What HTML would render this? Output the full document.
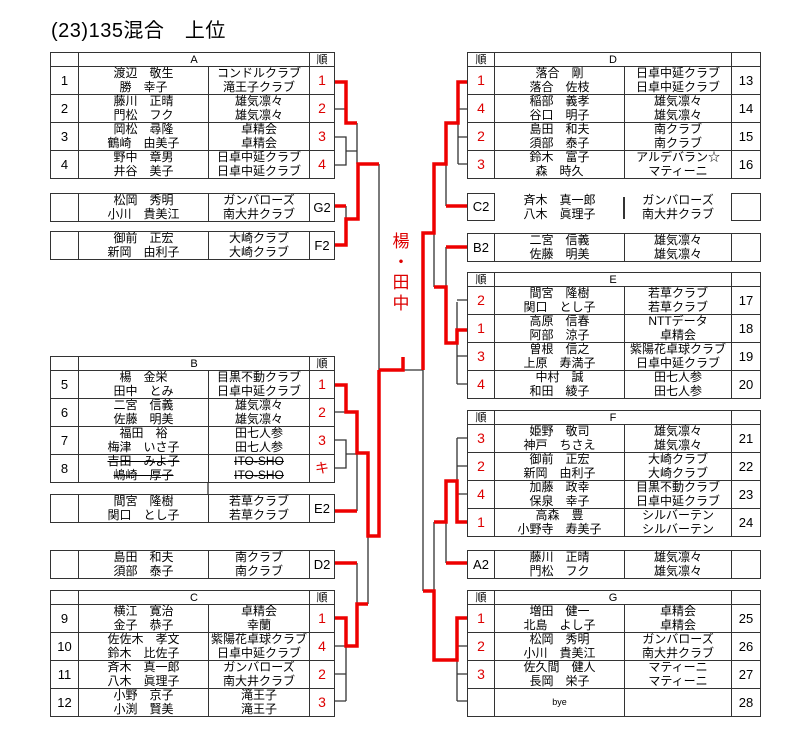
<!DOCTYPE html>
<html><head><meta charset="utf-8">
<style>
*{margin:0;padding:0;box-sizing:border-box}
body{width:794px;height:747px;background:#fff;position:relative;overflow:hidden;font-family:"Liberation Sans","Noto Sans CJK JP",sans-serif;color:#000}
.title{position:absolute;left:51px;top:14px;font-size:20px;letter-spacing:0.5px}
table{position:absolute;border-collapse:collapse;table-layout:fixed}
td{border:1.5px solid #333;text-align:center;vertical-align:middle;font-size:12px;line-height:13.5px;padding:0;white-space:nowrap;overflow:hidden}
tr.h td{height:14px;font-size:11px;line-height:12px}
tr.r td{height:28px}
td.num{font-size:13px}
td.rk{color:#d00;font-size:14px}
td.s{font-size:13px}
.st{text-decoration:line-through}
.L{left:50px;width:284px}
.R{left:467px;width:293px}
svg{position:absolute;left:0;top:0}
.lbl{position:absolute;left:391px;top:232px;color:#d00;font-size:17px;line-height:20.7px;width:20px;text-align:center}
</style></head><body>
<div class="title">(23)135混合　上位</div>

<!-- LEFT -->
<table class="L" style="top:52px"><colgroup><col style="width:28px"><col style="width:130px"><col style="width:101px"><col style="width:25px"></colgroup>
<tr class="h"><td></td><td colspan="2">A</td><td>順</td></tr>
<tr class="r"><td class="num">1</td><td>渡辺　敬生<br>勝　幸子</td><td>コンドルクラブ<br>滝王子クラブ</td><td class="rk">1</td></tr>
<tr class="r"><td class="num">2</td><td>藤川　正晴<br>門松　フク</td><td>雄気凛々<br>雄気凛々</td><td class="rk">2</td></tr>
<tr class="r"><td class="num">3</td><td>岡松　尋隆<br>鶴崎　由美子</td><td>卓精会<br>卓精会</td><td class="rk">3</td></tr>
<tr class="r"><td class="num">4</td><td>野中　章男<br>井谷　美子</td><td>日卓中延クラブ<br>日卓中延クラブ</td><td class="rk">4</td></tr>
</table>
<table class="L" style="top:193px"><colgroup><col style="width:28px"><col style="width:130px"><col style="width:101px"><col style="width:25px"></colgroup>
<tr class="r"><td></td><td>松岡　秀明<br>小川　貴美江</td><td>ガンバローズ<br>南大井クラブ</td><td class="s">G2</td></tr></table>
<table class="L" style="top:231px"><colgroup><col style="width:28px"><col style="width:130px"><col style="width:101px"><col style="width:25px"></colgroup>
<tr class="r"><td></td><td>御前　正宏<br>新岡　由利子</td><td>大崎クラブ<br>大崎クラブ</td><td class="s">F2</td></tr></table>

<table class="L" style="top:356px"><colgroup><col style="width:28px"><col style="width:130px"><col style="width:101px"><col style="width:25px"></colgroup>
<tr class="h"><td></td><td colspan="2">B</td><td>順</td></tr>
<tr class="r"><td class="num">5</td><td>楊　金栄<br>田中　とみ</td><td>目黒不動クラブ<br>日卓中延クラブ</td><td class="rk">1</td></tr>
<tr class="r"><td class="num">6</td><td>二宮　信義<br>佐藤　明美</td><td>雄気凛々<br>雄気凛々</td><td class="rk">2</td></tr>
<tr class="r"><td class="num">7</td><td>福田　裕<br>梅津　いさ子</td><td>田七人参<br>田七人参</td><td class="rk">3</td></tr>
<tr class="r"><td class="num">8</td><td class="st">吉田　みよ子<br>嶋崎　厚子</td><td class="st">ITO-SHO<br>ITO-SHO</td><td class="rk">キ</td></tr>
</table>
<table class="L" style="top:494px"><colgroup><col style="width:28px"><col style="width:130px"><col style="width:101px"><col style="width:25px"></colgroup>
<tr class="r"><td></td><td>間宮　隆樹<br>関口　とし子</td><td>若草クラブ<br>若草クラブ</td><td class="s">E2</td></tr></table>
<table class="L" style="top:550px"><colgroup><col style="width:28px"><col style="width:130px"><col style="width:101px"><col style="width:25px"></colgroup>
<tr class="r"><td></td><td>島田　和夫<br>須部　泰子</td><td>南クラブ<br>南クラブ</td><td class="s">D2</td></tr></table>
<table class="L" style="top:590px"><colgroup><col style="width:28px"><col style="width:130px"><col style="width:101px"><col style="width:25px"></colgroup>
<tr class="h"><td></td><td colspan="2">C</td><td>順</td></tr>
<tr class="r"><td class="num">9</td><td>横江　寛治<br>金子　恭子</td><td>卓精会<br>幸蘭</td><td class="rk">1</td></tr>
<tr class="r"><td class="num">10</td><td>佐佐木　孝文<br>鈴木　比佐子</td><td>紫陽花卓球クラブ<br>日卓中延クラブ</td><td class="rk">4</td></tr>
<tr class="r"><td class="num">11</td><td>斉木　真一郎<br>八木　眞理子</td><td>ガンバローズ<br>南大井クラブ</td><td class="rk">2</td></tr>
<tr class="r"><td class="num">12</td><td>小野　京子<br>小渕　賢美</td><td>滝王子<br>滝王子</td><td class="rk">3</td></tr>
</table>

<!-- RIGHT -->
<table class="R" style="top:52px"><colgroup><col style="width:27px"><col style="width:130px"><col style="width:107px"><col style="width:29px"></colgroup>
<tr class="h"><td>順</td><td colspan="2">D</td><td></td></tr>
<tr class="r"><td class="rk">1</td><td>落合　剛<br>落合　佐枝</td><td>日卓中延クラブ<br>日卓中延クラブ</td><td class="num">13</td></tr>
<tr class="r"><td class="rk">4</td><td>稲部　義孝<br>谷口　明子</td><td>雄気凛々<br>雄気凛々</td><td class="num">14</td></tr>
<tr class="r"><td class="rk">2</td><td>島田　和夫<br>須部　泰子</td><td>南クラブ<br>南クラブ</td><td class="num">15</td></tr>
<tr class="r"><td class="rk">3</td><td>鈴木　富子<br>森　時久</td><td>アルデバラン☆<br>マティーニ</td><td class="num">16</td></tr>
</table>
<div style="position:absolute;left:467px;top:193px;width:28px;height:28px;border:1.5px solid #333;font-size:13px;line-height:25px;text-align:center">C2</div>
<div style="position:absolute;left:495px;top:194px;width:129px;font-size:12px;line-height:13.5px;text-align:center">斉木　真一郎<br>八木　眞理子</div>
<div style="position:absolute;left:623px;top:197px;width:1.5px;height:22px;background:#333"></div>
<div style="position:absolute;left:625px;top:194px;width:106px;font-size:12px;line-height:13.5px;text-align:center">ガンバローズ<br>南大井クラブ</div>
<div style="position:absolute;left:731px;top:193px;width:30px;height:28px;border:1.5px solid #333"></div>
<table class="R" style="top:233px"><colgroup><col style="width:27px"><col style="width:130px"><col style="width:107px"><col style="width:29px"></colgroup>
<tr class="r"><td class="s">B2</td><td>二宮　信義<br>佐藤　明美</td><td>雄気凛々<br>雄気凛々</td><td></td></tr></table>
<table class="R" style="top:272px"><colgroup><col style="width:27px"><col style="width:130px"><col style="width:107px"><col style="width:29px"></colgroup>
<tr class="h"><td>順</td><td colspan="2">E</td><td></td></tr>
<tr class="r"><td class="rk">2</td><td>間宮　隆樹<br>関口　とし子</td><td>若草クラブ<br>若草クラブ</td><td class="num">17</td></tr>
<tr class="r"><td class="rk">1</td><td>高原　信春<br>阿部　涼子</td><td>NTTデータ<br>卓精会</td><td class="num">18</td></tr>
<tr class="r"><td class="rk">3</td><td>曽根　信之<br>上原　寿満子</td><td>紫陽花卓球クラブ<br>日卓中延クラブ</td><td class="num">19</td></tr>
<tr class="r"><td class="rk">4</td><td>中村　誠<br>和田　綾子</td><td>田七人参<br>田七人参</td><td class="num">20</td></tr>
</table>
<table class="R" style="top:410px"><colgroup><col style="width:27px"><col style="width:130px"><col style="width:107px"><col style="width:29px"></colgroup>
<tr class="h"><td>順</td><td colspan="2">F</td><td></td></tr>
<tr class="r"><td class="rk">3</td><td>姫野　敬司<br>神戸　ちさえ</td><td>雄気凛々<br>雄気凛々</td><td class="num">21</td></tr>
<tr class="r"><td class="rk">2</td><td>御前　正宏<br>新岡　由利子</td><td>大崎クラブ<br>大崎クラブ</td><td class="num">22</td></tr>
<tr class="r"><td class="rk">4</td><td>加藤　政幸<br>保泉　幸子</td><td>目黒不動クラブ<br>日卓中延クラブ</td><td class="num">23</td></tr>
<tr class="r"><td class="rk">1</td><td>高森　豊<br>小野寺　寿美子</td><td>シルバーテン<br>シルバーテン</td><td class="num">24</td></tr>
</table>
<table class="R" style="top:550px"><colgroup><col style="width:27px"><col style="width:130px"><col style="width:107px"><col style="width:29px"></colgroup>
<tr class="r"><td class="s">A2</td><td>藤川　正晴<br>門松　フク</td><td>雄気凛々<br>雄気凛々</td><td></td></tr></table>
<table class="R" style="top:590px"><colgroup><col style="width:27px"><col style="width:130px"><col style="width:107px"><col style="width:29px"></colgroup>
<tr class="h"><td>順</td><td colspan="2">G</td><td></td></tr>
<tr class="r"><td class="rk">1</td><td>増田　健一<br>北島　よし子</td><td>卓精会<br>卓精会</td><td class="num">25</td></tr>
<tr class="r"><td class="rk">2</td><td>松岡　秀明<br>小川　貴美江</td><td>ガンバローズ<br>南大井クラブ</td><td class="num">26</td></tr>
<tr class="r"><td class="rk">3</td><td>佐久間　健人<br>長岡　栄子</td><td>マティーニ<br>マティーニ</td><td class="num">27</td></tr>
<tr class="r"><td></td><td style="font-size:9px">bye</td><td></td><td class="num">28</td></tr>
</table>

<svg width="794" height="747" viewBox="0 0 794 747" fill="none">
<g stroke="#333" stroke-width="1.3">
<path d="M208 482V494"/>
<path d="M335 109H346M335 137H346V165H335M346 151H357M357 123V164M346 206V219M379 164V370"/>
<path d="M403 370H423M423 370V591"/>
<path d="M458 109H467M458 137H467M458 164H467M458 123V164M446 164V206"/>
<path d="M434 233V287M446 247V287"/>
<path d="M457 300H467M457 356H467M457 384H467M457 302V384"/>
<path d="M457 646H467M457 674H467M457 701H467M457 646V701"/>
<path d="M457 438H467M457 466H467M457 494H467M457 438V522M434 522V591M446 522V563"/>
<path d="M335 412H346M335 440H346V468H335M346 454H357M357 453V511"/>
<path d="M357 563V604M368 536V604"/>
<path d="M335 646H346M335 674H346M335 701H346M346 646V701"/>
</g>
<g stroke="#e00" stroke-width="3.5" stroke-linejoin="miter">
<path d="M335 82H346V123H357"/>
<path d="M335 206H346"/>
<path d="M335 245H346V219H358V164H379"/>
<path d="M379 370H403V357"/>
<path d="M423 370V233H434V164H446V123H458V82H467"/>
<path d="M446 206H467"/>
<path d="M446 247H467"/>
<path d="M434 287H446V343H457V330H467"/>
<path d="M423 591H434V660H457V618H467"/>
<path d="M467 522H457V481H446V522H434"/>
<path d="M446 563H467"/>
<path d="M335 385H346V412H357V453H368V536H379V370"/>
<path d="M335 511H357"/>
<path d="M335 563H357"/>
<path d="M368 604H357V646H346V618H335"/>
</g>
</svg>
<div class="lbl">楊<br>・<br>田<br>中</div>
</body></html>
